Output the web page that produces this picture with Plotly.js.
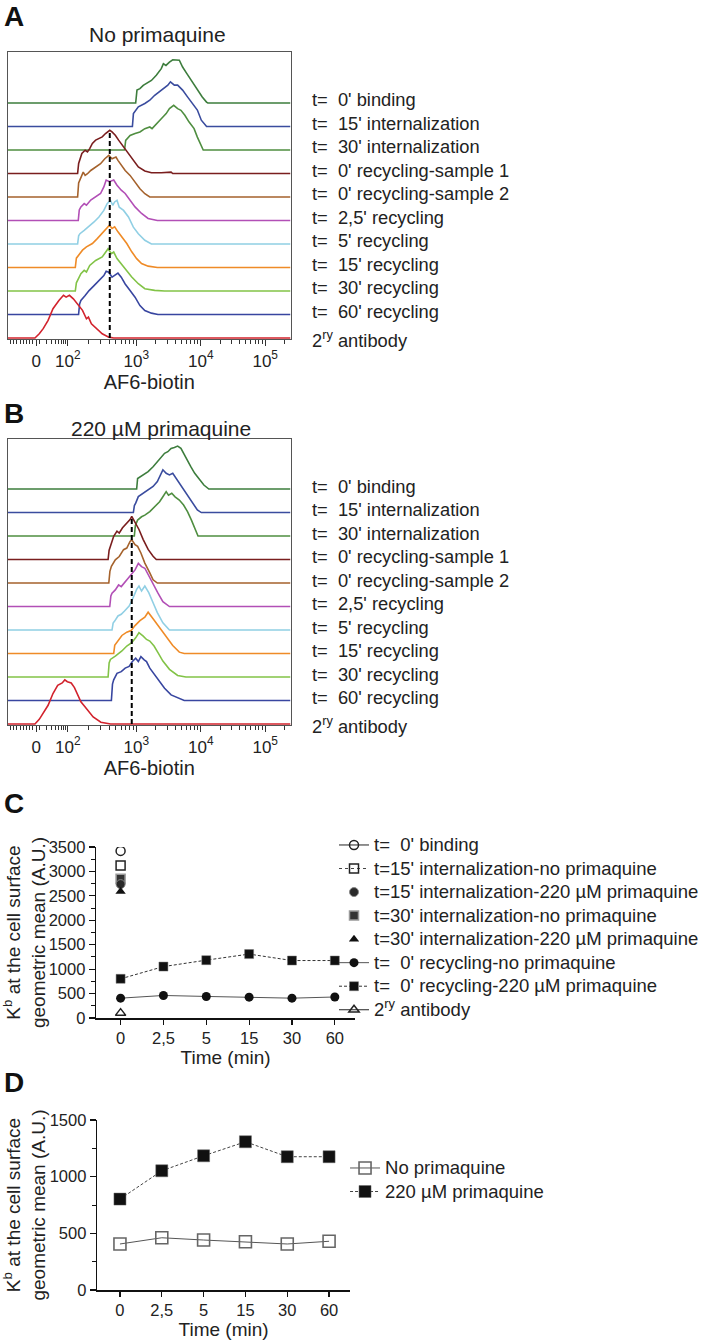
<!DOCTYPE html>
<html><head><meta charset="utf-8">
<script src="https://cdn.plot.ly/plotly-3.0.1.min.js"></script>
<style>html,body{margin:0;padding:0;background:#fff}#chart{width:704px;height:1341px}</style>
</head><body><div id="chart"></div>
<script>
// ---------------- DATA ----------------
// Row labels of histogram panels A and B (top to bottom)
const rowLabels = ["t=\u00a0 0' binding", "t=\u00a0 15' internalization", "t=\u00a0 30' internalization",
  "t=\u00a0 0' recycling-sample 1", "t=\u00a0 0' recycling-sample 2", "t=\u00a0 2,5' recycling",
  "t=\u00a0 5' recycling", "t=\u00a0 15' recycling", "t=\u00a0 30' recycling", "t=\u00a0 60' recycling",
  "2<sup>ry</sup> antibody"];
// AF6-biotin axis (logicle display units) tick positions / labels
const afTickVals = [1.446, 1.938, 3, 4, 5];
const afTickText = ["0", "10<sup>2</sup>", "10<sup>3</sup>", "10<sup>4</sup>", "10<sup>5</sup>"];

// Panel A histograms: x = AF6-biotin (display units), h = relative counts
const aBindX = [2.99,3.01,3.056,3.107,3.158,3.234,3.31,3.387,3.42,3.46,3.514,3.565,3.667,3.718,3.784,3.87,3.947,4.023,4.089,4.11];
const aBindH = [0,0.55,0.61,0.75,0.82,0.96,1.18,1.46,1.67,1.6,1.74,1.84,1.82,1.53,1.25,0.89,0.61,0.26,0.04,0];
const aInt15X = [2.939,2.955,3.031,3.132,3.209,3.285,3.361,3.438,3.489,3.529,3.59,3.641,3.718,3.794,3.87,3.947,4.008,4.074,4.09];
const aInt15H = [0,0.55,0.84,0.98,1.12,1.33,1.48,1.66,1.76,1.9,1.76,1.76,1.55,1.26,0.98,0.70,0.27,0.03,0];
const aInt30X = [2.817,2.835,2.903,2.98,3.056,3.132,3.209,3.244,3.31,3.387,3.463,3.514,3.58,3.641,3.692,3.753,3.819,3.896,3.947,3.987,4.038];
const aInt30H = [0,0.41,0.62,0.70,0.77,0.91,0.98,0.91,1.12,1.33,1.55,1.76,1.90,1.76,1.69,1.48,1.19,0.91,0.55,0.27,0];
const aRec0aX = [2.089,2.105,2.155,2.206,2.242,2.277,2.318,2.369,2.42,2.471,2.522,2.588,2.623,2.674,2.725,2.802,2.878,2.954,3.031,3.132,3.234,3.387,3.463,3.539,3.565];
const aRec0aH = [0,0.43,0.85,0.99,0.92,1.06,1.28,1.42,1.49,1.56,1.70,1.84,1.77,1.63,1.42,1.13,0.85,0.57,0.28,0.11,0.03,0.03,0.06,0.06,0];
const aRec0bX = [2.089,2.105,2.140,2.176,2.206,2.242,2.293,2.369,2.445,2.511,2.573,2.623,2.684,2.715,2.766,2.827,2.903,2.98,3.056,3.132,3.209];
const aRec0bH = [0,0.6,0.85,1.06,0.92,0.99,1.13,1.28,1.42,1.63,1.77,1.63,1.70,1.56,1.35,1.13,0.92,0.64,0.35,0.14,0];
const aRec2X = [2.099,2.115,2.140,2.191,2.226,2.293,2.369,2.445,2.496,2.532,2.583,2.649,2.700,2.766,2.827,2.903,2.98,3.081,3.183,3.326];
const aRec2H = [0,0.45,0.58,0.72,0.65,0.87,1.01,1.15,1.43,1.72,1.65,1.72,1.50,1.29,1.15,0.87,0.58,0.30,0.09,0];
const aRec5X = [2.089,2.105,2.125,2.191,2.257,2.344,2.42,2.496,2.547,2.598,2.634,2.664,2.700,2.735,2.802,2.878,2.954,3.031,3.132,3.234];
const aRec5H = [0,0.35,0.44,0.58,0.72,0.94,1.15,1.43,1.72,1.86,1.65,1.79,1.86,1.57,1.43,1.15,0.72,0.44,0.16,0];
const aRec15X = [2.053,2.07,2.104,2.165,2.226,2.277,2.318,2.394,2.471,2.532,2.583,2.623,2.664,2.715,2.776,2.852,2.929,3.005,3.081,3.183,3.326];
const aRec15H = [0,0.4,0.52,0.74,0.88,0.95,1.02,1.23,1.45,1.66,1.80,1.66,1.73,1.52,1.30,1.02,0.67,0.38,0.17,0.06,0];
const aRec30X = [2.053,2.07,2.089,2.140,2.191,2.226,2.277,2.369,2.471,2.522,2.562,2.613,2.649,2.700,2.766,2.837,2.929,3.031,3.132,3.285,3.438];
const aRec30H = [0,0.35,0.45,0.74,0.88,0.81,1.09,1.30,1.45,1.66,1.80,1.59,1.66,1.38,1.16,0.88,0.60,0.31,0.10,0.03,0];
const aRec60X = [2.104,2.12,2.140,2.206,2.267,2.344,2.42,2.496,2.532,2.573,2.623,2.674,2.715,2.766,2.827,2.903,2.98,3.056,3.132,3.234,3.336];
const aRec60H = [0,0.45,0.60,0.81,1.02,1.23,1.45,1.66,1.84,1.80,1.59,1.70,1.76,1.59,1.30,1.02,0.74,0.38,0.17,0.06,0];
const aAb2X = [1.427,1.494,1.555,1.631,1.707,1.799,1.870,1.911,1.962,2.023,2.089,2.165,2.226,2.257,2.303,2.394,2.471,2.573,2.649];
const aAb2H = [0,0.18,0.40,0.75,1.25,1.60,1.82,1.74,1.82,1.67,1.46,1.18,0.82,0.89,0.61,0.40,0.18,0.04,0];
const aDashX = 2.588;

// Panel B histograms
const bBindX = [3.005,3.02,3.056,3.132,3.183,3.260,3.326,3.387,3.438,3.489,3.539,3.59,3.641,3.692,3.743,3.794,3.845,3.906,3.972,4.048,4.125];
const bBindH = [0,0.45,0.52,0.67,0.74,0.95,1.16,1.38,1.52,1.59,1.73,1.77,1.83,1.73,1.45,1.23,0.95,0.67,0.45,0.17,0];
const bInt15X = [2.954,2.97,2.99,3.031,3.107,3.183,3.260,3.326,3.377,3.412,3.463,3.514,3.565,3.616,3.667,3.743,3.819,3.896,3.947,4.008];
const bInt15H = [0,0.3,0.40,0.68,0.82,0.96,1.11,1.32,1.60,1.82,1.67,1.60,1.67,1.46,1.25,0.96,0.61,0.33,0.11,0];
const bInt30X = [2.969,2.985,3.02,3.081,3.132,3.209,3.285,3.361,3.412,3.463,3.499,3.55,3.601,3.667,3.733,3.794,3.855,3.906,3.957];
const bInt30H = [0,0.45,0.68,0.82,0.89,1.04,1.25,1.46,1.67,1.89,1.74,1.82,1.67,1.53,1.32,1.04,0.68,0.33,0];
const bRec0aX = [2.562,2.578,2.598,2.649,2.700,2.735,2.786,2.852,2.903,2.929,2.99,3.041,3.107,3.183,3.260,3.31];
const bRec0aH = [0,0.4,0.57,0.99,1.21,1.13,1.35,1.56,1.70,1.84,1.56,1.28,0.85,0.43,0.14,0];
const bRec0bX = [2.573,2.59,2.613,2.674,2.735,2.802,2.852,2.903,2.929,2.98,3.02,3.071,3.132,3.209,3.260,3.326];
const bRec0bH = [0,0.5,0.71,0.99,1.13,1.42,1.49,1.77,1.84,1.63,1.56,1.28,0.85,0.43,0.14,0];
const bRec2X = [2.588,2.605,2.623,2.674,2.725,2.766,2.827,2.903,2.98,3.031,3.081,3.132,3.183,3.260,3.336,3.412,3.514];
const bRec2H = [0,0.45,0.57,0.71,0.92,0.85,1.06,1.28,1.56,1.84,1.70,1.63,1.35,0.99,0.57,0.21,0];
const bRec5X = [2.623,2.64,2.664,2.715,2.766,2.817,2.888,2.939,3.005,3.041,3.081,3.132,3.193,3.260,3.326,3.412,3.514];
const bRec5H = [0,0.3,0.38,0.60,0.67,0.81,1.02,1.30,1.73,1.87,1.66,1.87,1.59,1.16,0.74,0.31,0];
const bRec15X = [2.649,2.665,2.700,2.776,2.852,2.919,2.98,3.056,3.132,3.183,3.260,3.336,3.438,3.565,3.667,3.743];
const bRec15H = [0,0.35,0.48,0.77,0.91,0.98,1.19,1.40,1.55,1.76,1.48,1.19,0.77,0.34,0.06,0];
const bRec30X = [2.562,2.578,2.598,2.674,2.776,2.852,2.929,2.99,3.041,3.107,3.158,3.209,3.275,3.336,3.412,3.514,3.641,3.769];
const bRec30H = [0,0.6,0.75,0.89,1.11,1.32,1.46,1.67,1.89,1.74,1.60,1.53,1.32,1.04,0.68,0.33,0.07,0];
const bRec60X = [2.613,2.63,2.649,2.700,2.766,2.827,2.888,2.939,2.99,3.031,3.071,3.122,3.158,3.209,3.285,3.361,3.438,3.539,3.743];
const bRec60H = [0,0.7,0.88,1.16,1.23,1.38,1.45,1.66,1.80,1.66,1.87,1.73,1.66,1.38,1.09,0.81,0.52,0.24,0];
const bAb2X = [1.427,1.494,1.555,1.631,1.707,1.78,1.85,1.89,1.93,1.99,2.04,2.09,2.14,2.2,2.26,2.33,2.45,2.6];
const bAb2H = [0,0.2,0.45,0.8,1.3,1.65,1.75,1.88,1.8,1.75,1.55,1.25,0.95,0.75,0.55,0.3,0.08,0];
const bDashX = 2.929;

// Panels C and D: geometric mean (A.U.)
const timeLabels = ["0", "2,5", "5", "15", "30", "60"];
const binding0 = [3420];
const int15NoPrim = [3120];
const int15Prim = [2740];
const int30NoPrim = [2850];
const int30Prim = [2590];
const recycNoPrim = [406, 461, 441, 426, 406, 430];
const recycPrim = [802, 1052, 1184, 1308, 1176, 1176];
const secondaryAb = [100];
const cLegendNames = ["t=\u00a0 0' binding", "t=15' internalization-no primaquine", "t=15' internalization-220 µM primaquine",
  "t=30' internalization-no primaquine", "t=30' internalization-220 µM primaquine", "t=\u00a0 0' recycling-no primaquine",
  "t=\u00a0 0' recycling-220 µM primaquine", "2<sup>ry</sup> antibody"];
const dLegendNames = ["No primaquine", "220 µM primaquine"];

// ---------------- STYLE / LAYOUT ----------------
const FONT = 'Liberation Sans, Arial, Helvetica, sans-serif';
const W = 704, H = 1341;
const PX = v => v / W, PY = v => 1 - v / H;
const rowColors = ['#3d7d3d', '#3a4c9e', '#4f8e40', '#7a1e1e', '#a5622c', '#b24fb6', '#90cfe4', '#ef8b27', '#82c347', '#3846a0', '#d2232d'];
const XMIN = 1.008, XMAX = 5.392;

const aX = [aBindX, aInt15X, aInt30X, aRec0aX, aRec0bX, aRec2X, aRec5X, aRec15X, aRec30X, aRec60X, aAb2X];
const aH = [aBindH, aInt15H, aInt30H, aRec0aH, aRec0bH, aRec2H, aRec5H, aRec15H, aRec30H, aRec60H, aAb2H];
const bX = [bBindX, bInt15X, bInt30X, bRec0aX, bRec0bX, bRec2X, bRec5X, bRec15X, bRec30X, bRec60X, bAb2X];
const bH = [bBindH, bInt15H, bInt30H, bRec0aH, bRec0bH, bRec2H, bRec5H, bRec15H, bRec30H, bRec60H, bAb2H];

function histTraces(xs, hs, xa, ya) {
  return xs.map((x, i) => {
    const base = xs.length - 1 - i;
    return {type: 'scatter', mode: 'lines', x: [XMIN].concat(x, [XMAX]),
      y: [base].concat(hs[i].map(h => base + h), [base]), xaxis: xa, yaxis: ya,
      line: {color: rowColors[i], width: 1.6}, showlegend: false, hoverinfo: 'skip'};
  });
}
function dashTrace(xv, hs, xa, ya) {
  const top = (hs.length - 1 - 3) + Math.max(...hs[3]);
  return {type: 'scatter', mode: 'lines', x: [xv, xv], y: [0, top], xaxis: xa, yaxis: ya,
    line: {color: '#000', width: 2, dash: '5px,3px'}, showlegend: false, hoverinfo: 'skip'};
}

const traces = [].concat(histTraces(aX, aH, 'x', 'y'), [dashTrace(aDashX, aH, 'x', 'y')],
  histTraces(bX, bH, 'x2', 'y2'), [dashTrace(bDashX, bH, 'x2', 'y2')]);

const LS = n => '<span style="font-size:18.5px">' + n + '</span>';
const c0 = [timeLabels[0]];
traces.push(
  {x: c0, y: binding0, name: LS(cLegendNames[0]), legendrank: 1, mode: 'lines+markers', xaxis: 'x3', yaxis: 'y3',
    marker: {symbol: 'circle-open', size: 9, color: '#222', line: {width: 1.5}}, line: {color: '#222', width: 1}},
  {x: c0, y: int15NoPrim, name: LS(cLegendNames[1]), legendrank: 2, mode: 'lines+markers', xaxis: 'x3', yaxis: 'y3',
    marker: {symbol: 'square-open', size: 9, color: '#222', line: {width: 1.5}}, line: {color: '#444', width: 1, dash: 'dot'}},
  {x: c0, y: int30NoPrim, name: LS(cLegendNames[3]), legendrank: 4, mode: 'markers', xaxis: 'x3', yaxis: 'y3',
    marker: {symbol: 'square', size: 9, color: '#333', line: {color: '#999', width: 1.5}}},
  {x: c0, y: int15Prim, name: LS(cLegendNames[2]), legendrank: 3, mode: 'markers', xaxis: 'x3', yaxis: 'y3',
    marker: {symbol: 'circle', size: 9, color: '#2a2a2a', line: {color: '#888', width: 1}}},
  {x: c0, y: int30Prim, name: LS(cLegendNames[4]), legendrank: 5, mode: 'markers', xaxis: 'x3', yaxis: 'y3',
    marker: {symbol: 'triangle-up', size: 9, color: '#111'}},
  {x: timeLabels, y: recycNoPrim, name: LS(cLegendNames[5]), legendrank: 6, mode: 'lines+markers', xaxis: 'x3', yaxis: 'y3',
    marker: {symbol: 'circle', size: 9, color: '#111'}, line: {color: '#555', width: 1}},
  {x: timeLabels, y: recycPrim, name: LS(cLegendNames[6]), legendrank: 7, mode: 'lines+markers', xaxis: 'x3', yaxis: 'y3',
    marker: {symbol: 'square', size: 9, color: '#111', line: {color: '#777', width: 0.5}}, line: {color: '#333', width: 1, dash: '3px,2px'}},
  {x: c0, y: secondaryAb, name: LS(cLegendNames[7]), legendrank: 8, mode: 'lines+markers', xaxis: 'x3', yaxis: 'y3',
    marker: {symbol: 'triangle-up-open', size: 9, color: '#222', line: {width: 1.5}}, line: {color: '#222', width: 1}},
  {x: timeLabels, y: recycNoPrim, name: LS(dLegendNames[0]), legendrank: 1, mode: 'lines+markers', xaxis: 'x4', yaxis: 'y4', legend: 'legend2',
    marker: {symbol: 'square-open', size: 12, color: '#666', line: {width: 1.6}}, line: {color: '#555', width: 1}},
  {x: timeLabels, y: recycPrim, name: LS(dLegendNames[1]), legendrank: 2, mode: 'lines+markers', xaxis: 'x4', yaxis: 'y4', legend: 'legend2',
    marker: {symbol: 'square', size: 12, color: '#111', line: {color: '#666', width: 0.5}}, line: {color: '#444', width: 1, dash: '3px,2px'}}
);
traces.forEach(t => { if (t.xaxis === 'x3' || t.xaxis === 'x4') { t.type = 'scatter'; t.hoverinfo = 'skip'; } });

// minor ticks of the logicle axis
const afMinor = [1.046,1.096,1.146,1.196,1.246,1.296,1.346,1.396, 1.5,1.608,1.685,1.746,1.792,1.838,1.869,1.9];
for (let k = 2; k <= 9; k++) afMinor.push(1.938 + Math.log10(k) * 1.062);
for (const d of [3, 4]) for (let k = 2; k <= 9; k++) afMinor.push(d + Math.log10(k));
afMinor.push(5 + Math.log10(2));

function histX(domain) {
  return {domain: domain, range: [XMIN, XMAX], showline: true, mirror: true, linecolor: '#555', linewidth: 1.2,
    showgrid: false, zeroline: false, ticks: 'outside', ticklen: 6, tickwidth: 1, tickcolor: '#333',
    tickmode: 'array', tickvals: afTickVals, ticktext: afTickText, tickfont: {size: 17, color: '#222', family: FONT},
    minor: {tickmode: 'array', tickvals: afMinor, ticks: 'outside', ticklen: 4, tickwidth: 1, tickcolor: '#333'},
    title: {text: 'AF6-biotin', font: {size: 20, color: '#222', family: FONT}, standoff: 1}, fixedrange: true};
}
function histY(domain, range, anchor) {
  return {domain: domain, range: range, showline: true, mirror: true, linecolor: '#555', linewidth: 1.2,
    showgrid: false, zeroline: false, ticks: '', showticklabels: false, fixedrange: true, anchor: anchor};
}
const yTitleText = 'K<sup>b</sup> at the cell surface<br>geometric mean (A.U.)';
function catX(domain, range, anchor) {
  return {domain: domain, range: range, type: 'category', categoryorder: 'array', categoryarray: timeLabels,
    showline: true, linecolor: '#111', linewidth: 1.5, showgrid: false, zeroline: false,
    ticks: 'outside', ticklen: 5, tickwidth: 1.2, tickcolor: '#111', anchor: anchor,
    tickfont: {size: 16.5, color: '#222', family: FONT},
    title: {text: 'Time (min)', font: {size: 19, color: '#222', family: FONT}, standoff: 2}, fixedrange: true};
}
function valY(domain, range, anchor) {
  return {domain: domain, range: range, dtick: 500, showline: true, linecolor: '#111', linewidth: 1.5,
    showgrid: false, zeroline: false, ticks: 'outside', ticklen: 6, tickwidth: 1.2, tickcolor: '#111', anchor: anchor,
    minor: {dtick: 250, ticks: 'outside', ticklen: 3.5, tickwidth: 1, tickcolor: '#111'},
    tickfont: {size: 16.5, color: '#222', family: FONT},
    title: {text: yTitleText, font: {size: 19, color: '#222', family: FONT}, standoff: 5}, fixedrange: true};
}

const annotations = [];
const letter = (t, y) => annotations.push({text: '<b>' + t + '</b>', xref: 'paper', yref: 'paper', x: PX(2), y: PY(y),
  xanchor: 'left', yanchor: 'middle', showarrow: false, font: {size: 28, color: '#111', family: FONT}});
letter('A', 16); letter('B', 413); letter('C', 804); letter('D', 1082);
annotations.push({text: 'No primaquine', xref: 'paper', yref: 'paper', x: PX(158.5), y: PY(34), xanchor: 'center', yanchor: 'middle',
  showarrow: false, font: {size: 21, color: '#222', family: FONT}});
annotations.push({text: '220 µM primaquine', xref: 'paper', yref: 'paper', x: PX(162), y: PY(428), xanchor: 'center', yanchor: 'middle',
  showarrow: false, font: {size: 21, color: '#222', family: FONT}});
for (const ya of ['y', 'y2']) {
  rowLabels.forEach((lab, i) => {
    const base = rowLabels.length - 1 - i;
    annotations.push({text: lab, xref: 'paper', yref: ya, x: PX(313), y: base + (base === 0 ? -0.035 : 0.13),
      xanchor: 'left', yanchor: 'middle', showarrow: false, font: {size: 18.3, color: '#222', family: FONT}});
  });
}

const legendBase = {xanchor: 'left', yanchor: 'top', bgcolor: 'rgba(0,0,0,0)', borderwidth: 0,
  font: {size: 15.8, color: '#222', family: FONT}, itemclick: false, itemdoubleclick: false};

const layout = {
  width: W, height: H, margin: {l: 0, r: 0, t: 0, b: 0}, paper_bgcolor: '#fff', plot_bgcolor: '#fff',
  font: {family: FONT, color: '#222'}, showlegend: true,
  xaxis: Object.assign(histX([PX(8), PX(293)]), {anchor: 'y'}),
  yaxis: histY([PY(339), PY(52)], [-0.04, 12.17], 'x'),
  xaxis2: Object.assign(histX([PX(8), PX(293)]), {anchor: 'y2'}),
  yaxis2: histY([PY(725), PY(439)], [-0.04, 12.13], 'x2'),
  xaxis3: catX([PX(97), PX(358)], [-0.57, 5.47], 'y3'),
  yaxis3: valY([PY(1018), PY(847)], [0, 3500], 'x3'),
  xaxis4: catX([PX(98), PX(353)], [-0.545, 5.5], 'y4'),
  yaxis4: valY([PY(1290), PY(1120)], [0, 1500], 'x4'),
  legend: Object.assign({x: PX(337), y: PY(828.2)}, legendBase),
  legend2: Object.assign({x: PX(348), y: PY(1151.2)}, legendBase),
  annotations: annotations
};
Plotly.newPlot('chart', traces, layout, {staticPlot: true, displayModeBar: false});
</script>
</body></html>
